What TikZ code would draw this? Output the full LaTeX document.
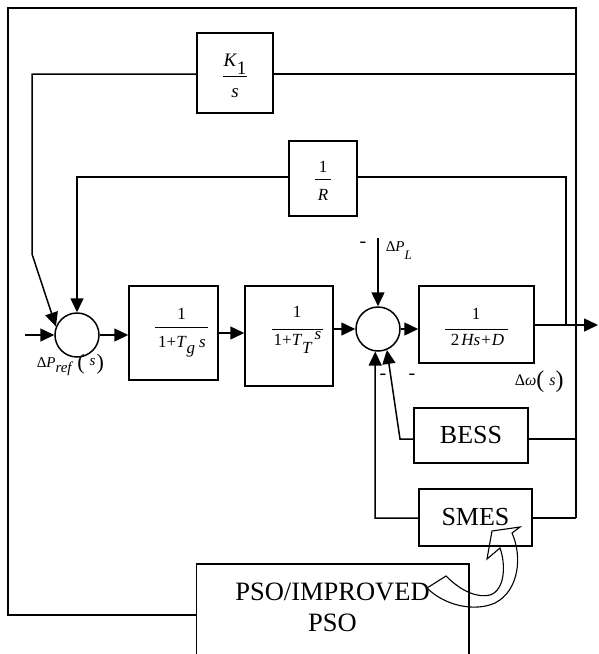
\documentclass[tikz,border=0pt]{standalone}
\usepackage{fontspec}
\setmainfont{Liberation Serif}
\usetikzlibrary{arrows.meta}
\newcommand{\fs}[1]{\fontsize{#1pt}{#1pt}\selectfont}
\newcommand{\lw}[2]{\raisebox{-#1pt}{#2}}
\begin{document}
\begin{tikzpicture}[x=1pt,y=-1pt,line width=1.5pt,
 blk/.style={draw,rectangle,inner sep=0pt},
 sumj/.style={draw,circle,minimum size=44pt,inner sep=0pt},
 arr/.style={-{Triangle[length=14pt,width=13pt]}},
 txt/.style={inner sep=0pt,anchor=base,font=\fs{17}},
 bar/.style={line width=1pt},
 mns/.style={inner sep=0pt,font=\fs{20}},
 lbl/.style={inner sep=0pt,anchor=base west}]
\useasboundingbox (0,0) rectangle (599,654);
% blocks
\node[blk,minimum width=76pt,minimum height=80pt] (k1) at (235,73) {};
\node[blk,minimum width=68pt,minimum height=75pt] (rr) at (323,178.5) {};
\node[blk,minimum width=89pt,minimum height=94pt] (b1) at (173.5,333) {};
\node[blk,minimum width=88pt,minimum height=100pt] (b2) at (289,336) {};
\node[blk,minimum width=115pt,minimum height=77pt] (b3) at (476.5,324.5) {};
\node[blk,minimum width=114pt,minimum height=55pt,font=\fs{26}] (bess) at (471,435.5) {BESS};
\node[blk,minimum width=113pt,minimum height=57pt,font=\fs{26}] (smes) at (475.5,517.5) {SMES};
\node[sumj] (s1) at (77,335) {};
\node[sumj] (s2) at (378,329) {};
\node[minimum width=271pt,minimum height=90pt,inner sep=0pt,anchor=north] (pso) at (332.5,564) {};
% fractions
\node[txt,font=\fs{19}] (k1n) at (235,66) {\textit{K}\lw{8}{1}};
\draw[bar] (223,76) -- (247,76);
\node[txt,font=\fs{19}] (k1d) at (235,97) {\textit{s}};
\node[txt] (rn) at (323,172) {1};
\draw[bar] (315,179) -- (331,179);
\node[txt] (rd) at (323,200) {\textit{R}};
\node[txt] (b1n) at (181.5,319) {1};
\draw[bar] (155,327) -- (208,327);
\node[txt] (b1d) at (182,347) {1+\textit{T}\lw{6}{\textit{g}}\hspace{4pt}\textit{s}};
\node[txt] (b2n) at (297,317) {1};
\draw[bar] (272,329) -- (323,329);
\node[txt] (b2d) at (297.5,345) {1+\textit{T}\lw{8}{\textit{T}}\hspace{2pt}\raisebox{6pt}{\textit{s}}};
\node[txt] (b3n) at (476,319) {1};
\draw[bar] (445,329) -- (508,329);
\node[txt] (b3d) at (477.5,345) {2\hspace{2pt}\textit{Hs}\hspace{1pt}+\hspace{1pt}\textit{D}};
% labels
\node[lbl,font=\fs{15}] (dpl) at (385,251) {Δ\textit{P}\lw{8}{\fs{13}\textit{L}}};
\node[lbl,font=\fs{15}] (dpr) at (36,367) {Δ\textit{P}\lw{5}{\textit{ref}}\hspace{4pt}\lw{2}{\fs{22}(}\hspace{5pt}\raisebox{2pt}{\textit{s}}\hspace{1pt}\lw{2}{\fs{22})}};
\node[lbl,font=\fs{16}] (dw) at (514,385) {Δ\textit{ω}\lw{2}{\fs{24}(}\hspace{5pt}\textit{s}\lw{2}{\fs{24})}};
\node[mns] (m1) at (363,245) {-};
\node[mns] (m2) at (383,377) {-};
\node[mns] (m3) at (412,377) {-};
\node[inner sep=0pt,anchor=base,font=\fs{26.5}] (pso1) at (332.5,600) {PSO/IMPROVED};
\node[inner sep=0pt,anchor=base,font=\fs{26.5}] (pso2) at (332.5,631) {PSO};
% coordinates
\coordinate (in) at (25,335);
\coordinate (out) at (598,325);
\coordinate (fTR) at (576,8);
\coordinate (fTL) at (8,8);
\coordinate (fBL) at (8,615);
\coordinate (k1r) at (576,74);
\coordinate (k1a) at (32,74);
\coordinate (k1b) at (32,254);
\coordinate (ra) at (566,325);
\coordinate (rb) at (566,177);
\coordinate (rc) at (77,177);
\coordinate (pl) at (378,238);
\coordinate (bw) at (400,439);
\coordinate (be) at (576,439);
\coordinate (sw) at (375,518);
\coordinate (se) at (576,518);
% connectors
\draw[arr] (in) -- (s1.west);
\draw[arr] (s1.east) -- (s1.east -| b1.west);
\draw[arr] (b1.east) -- (b1.east -| b2.west);
\draw[arr] (b2.east |- s2.west) -- (s2.west);
\draw[arr] (s2.east) -- (s2.east -| b3.west);
\draw[arr] (b3.east |- out) -- (out);
\draw (k1r) -- (k1.east |- k1r);
\draw[arr] (k1.west |- k1a) -- (k1a) -- (k1b) -- (s1.158);
\draw (ra) -- (rb) -- (rr.east |- rb);
\draw[arr] (rr.west |- rb) -- (rc) -- (s1.north);
\draw[arr] (pl) -- (s2.north);
\draw (bess.east |- be) -- (be);
\draw[arr] (bess.west |- bw) -- (bw) -- (s2.-67);
\draw[arr] (smes.west |- sw) -- (sw) -- (s2.-97);
\draw (se) -- (smes.east |- se);
\draw (se) -- (fTR) -- (fTL) -- (fBL) -- (pso.west |- fBL);
\draw (pso.south west) -- (pso.north west) -- (pso.north east) -- (pso.south east);
% curved block arrow
\draw[line width=1.1pt] (427,588) -- (446,576) .. controls (462,592) and (478,598) .. (490,595) .. controls (505,590) and (506,565) .. (500,548) -- (487,559) -- (492,531) -- (520,527) -- (512,533) .. controls (522,555) and (520,590) .. (495,603) .. controls (475,612) and (445,606) .. (427,588) -- cycle;
\end{tikzpicture}
\end{document}
